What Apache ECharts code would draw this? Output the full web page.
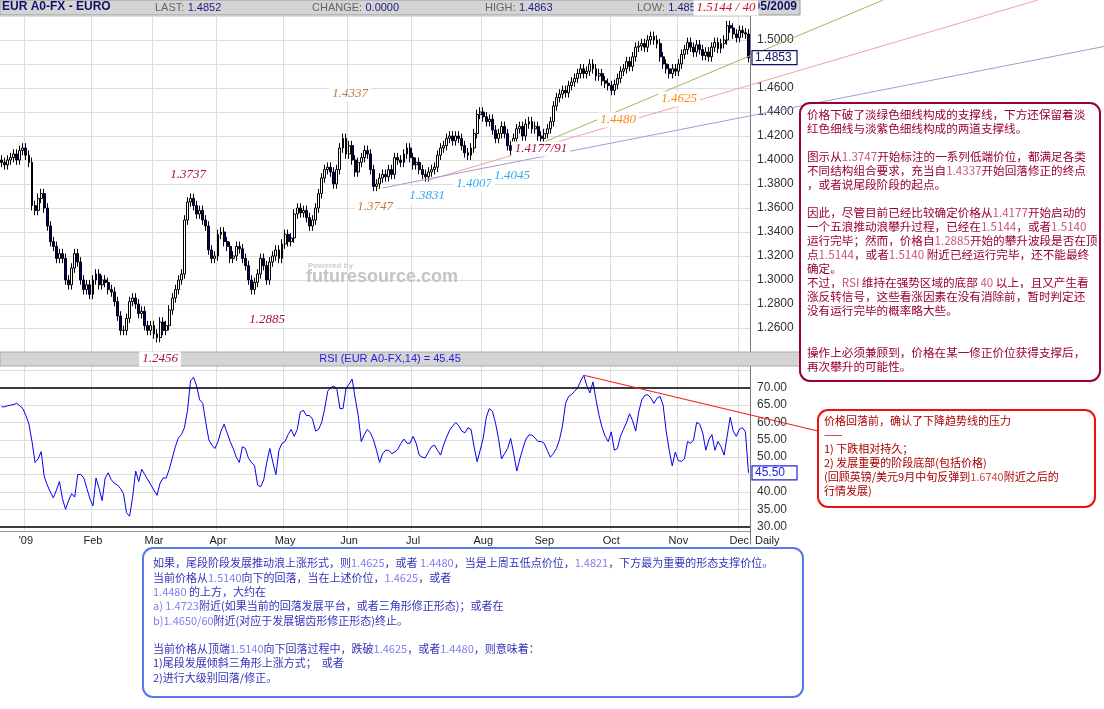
<!DOCTYPE html>
<html><head><meta charset="utf-8">
<script src="https://cdn.jsdelivr.net/npm/echarts@6/dist/echarts.min.js"></script>
<style>html,body{margin:0;padding:0;background:#fff}#c{width:1104px;height:709px}</style>
</head><body><div id="c"></div>
<script>
// ---- data ----
const closes = [
1.398,1.396,1.400,1.402,1.405,1.400,1.408,1.410,1.404,1.398,
1.362,1.358,1.368,1.372,1.360,1.345,1.332,1.328,1.318,1.322,
1.318,1.300,1.296,1.310,1.322,1.315,1.300,1.292,1.296,1.288,
1.300,1.305,1.296,1.300,1.298,1.292,1.290,1.282,1.270,1.258,
1.258,1.268,1.282,1.285,1.280,1.272,1.274,1.262,1.258,1.262,
1.255,1.252,1.265,1.258,1.262,1.275,1.285,1.292,1.300,1.305,
1.350,1.365,1.368,1.362,1.355,1.358,1.350,1.345,1.325,1.318,
1.320,1.338,1.340,1.332,1.328,1.318,1.320,1.328,1.326,1.318,
1.312,1.300,1.292,1.298,1.305,1.318,1.312,1.300,1.315,1.320,
1.325,1.318,1.330,1.338,1.332,1.335,1.355,1.360,1.356,1.358,
1.352,1.345,1.350,1.360,1.372,1.385,1.392,1.394,1.390,1.380,
1.392,1.410,1.418,1.405,1.412,1.400,1.390,1.398,1.402,1.408,
1.405,1.392,1.378,1.380,1.385,1.388,1.386,1.392,1.388,1.402,
1.400,1.398,1.405,1.410,1.402,1.396,1.398,1.392,1.388,1.386,
1.390,1.392,1.394,1.404,1.410,1.412,1.418,1.420,1.416,1.420,
1.418,1.412,1.406,1.404,1.410,1.422,1.438,1.440,1.436,1.432,
1.434,1.425,1.418,1.422,1.428,1.422,1.412,1.408,1.418,1.426,
1.428,1.420,1.430,1.432,1.426,1.428,1.420,1.418,1.422,1.426,
1.432,1.445,1.452,1.455,1.458,1.456,1.462,1.465,1.468,1.472,
1.476,1.472,1.474,1.480,1.476,1.470,1.472,1.466,1.464,1.462,
1.458,1.463,1.468,1.474,1.476,1.482,1.478,1.486,1.494,1.495,
1.497,1.494,1.500,1.503,1.500,1.497,1.486,1.480,1.476,1.472,
1.476,1.474,1.480,1.488,1.492,1.498,1.494,1.490,1.496,1.492,
1.487,1.490,1.486,1.494,1.498,1.493,1.497,1.500,1.512,1.510,
1.505,1.502,1.508,1.506,1.505,1.4853];
const firstOpen = 1.400;
const wick = 0.004;
const rsi = [
64.5,64.5,64.8,65,65.2,65.5,64.8,64,62,59.5,
54.5,48.5,49.5,51.6,44.5,42,40,38.3,40.5,43,
38,35,37.5,39.5,38.5,45,45,44,41,38,
36,44,41,37.5,44,45.5,43.5,42.5,42,41,
39.5,34,33,38.5,46,43,46.5,45,43.5,42,
40.5,39,42.5,44,44,46.5,49.7,53,55.5,56.5,
58.5,63.5,72,73,70.5,66.5,65.5,60,55,53.5,
52.5,54.5,57.5,59.5,57,54.5,52.5,50,48.5,53,
52.5,49.7,48.5,47.5,42,41.5,43.5,48.5,52.5,48.5,
45,52,54,54.5,56.5,58,56,58,63,63.5,
62,62,61,57.5,58,60,64,69,70,70.5,
69.5,64,64,69.8,71,72.5,67,62,54.5,56.5,
58,57,55,52,48.5,51,52,52,51,51.5,
52.3,54,55.2,54,54,56,54,50.6,50,49.8,
51.5,53,53.5,52,50.6,53.5,55.8,57.8,59,60,
59,57.5,57,58.5,58,53,48.7,52,55.5,61.5,
64,63.2,60,55.4,49.5,51,52.5,55.4,51,46,
49.5,52.5,55.2,56.4,56.4,55.5,54.5,54.5,54,52,
50,51,52.5,55,59,65.5,67.5,68,69,70,
72,73.6,70.5,68.5,71.7,66.5,62,58.5,56,54.5,
57.3,52,52.5,56,58,60,62.5,60.5,57.5,63,
66.5,67.8,68,67,65.5,67,67.5,65,57.5,52,
47.5,51.5,49,48.8,49.5,54.5,54,55,60,59.5,
57,52,55,56.5,52,54.5,53,50.6,56,61.5,
57.5,56,58,58.5,57.3,45.5];
const monthIdx = [8,30,50,71,93,114,135,158,178,200,222,242];
const monthNames = ["'09","Feb","Mar","Apr","May","Jun","Jul","Aug","Sep","Oct","Nov","Dec"];
const priceTicks = [1.26,1.28,1.30,1.32,1.34,1.36,1.38,1.40,1.42,1.44,1.46,1.50];
const rsiTicks = [30,35,40,45,50,55,60,65,70];
// trend lines: [startIndex, startValue, endIndex, endValue]
const greenLine = [178,1.415,245,1.4863];
const pinkLine = [140.3,1.3833,245,1.4621];
const purpleLine = [124.6,1.3767,245,1.4365];
const rsiLine = [191,73.6,245,62.3];
const priceNotes = [
 ["1.3737",188,175,'#aa1144'],["1.2885",267,320,'#aa1144'],["1.4337",350,94,'#c07838'],
 ["1.3747",375,207,'#c07838'],["1.3831",427,196,'#33aaee'],["1.4007",474,184,'#33aaee'],
 ["1.4045",512,176,'#33aaee'],["1.4177/91",541,149,'#aa1144'],["1.4480",618,120,'#ff8811'],
 ["1.4625",679,99,'#ff8811'],["1.2456",160,359,'#aa1144'],["1.5144 / 40",726,8,'#cc1133']];

const cats = closes.map((_, i) => String(i));
const candles = closes.map((c, i) => {
  const o = i === 0 ? firstOpen : closes[i-1];
  return [o, c, Math.min(o,c)-wick, Math.max(o,c)+wick];
});

const chart = echarts.init(document.getElementById('c'));
const sans = 'Liberation Sans, Arial, sans-serif';
const gridLine = {show:true, lineStyle:{color:'#dcdcdc'}};
const monthSplit = {show:true, interval:(i)=>monthIdx.includes(i), lineStyle:{color:'#dcdcdc'}};
chart.setOption({
  animation:false,
  grid:[
    {left:0,right:354,top:16,bottom:357},
    {left:0,right:354,top:353,bottom:165}
  ],
  xAxis:[
    {gridIndex:0,type:'category',data:cats,axisLabel:{show:false},axisTick:{show:false},axisLine:{show:false},splitLine:monthSplit},
    {gridIndex:1,type:'category',data:cats,axisLabel:{show:false},axisTick:{show:false},axisLine:{show:false},splitLine:monthSplit}
  ],
  yAxis:[
    {gridIndex:0,type:'value',position:'right',min:1.24,max:1.52,interval:0.02,
      axisLine:{show:true,lineStyle:{color:'#777'}},axisTick:{show:false},splitLine:gridLine,
      axisLabel:{margin:7,color:'#333',fontSize:12,fontFamily:sans,
        formatter:(v)=>priceTicks.some(t=>Math.abs(t-v)<1e-6)?v.toFixed(4):''}},
    {gridIndex:1,type:'value',position:'right',min:25,max:80,interval:5,
      axisLine:{show:true,lineStyle:{color:'#777'}},axisTick:{show:false},splitLine:gridLine,
      axisLabel:{margin:7,color:'#333',fontSize:12,fontFamily:sans,
        formatter:(v)=>rsiTicks.includes(v)?v.toFixed(2):''}}
  ],
  series:[
    {type:'candlestick',xAxisIndex:0,yAxisIndex:0,data:candles,barWidth:2.4,
      itemStyle:{color:'#ffffff',color0:'#000080',borderColor:'#000',borderColor0:'#000',borderWidth:1}},
    {type:'line',xAxisIndex:1,yAxisIndex:1,data:rsi,symbol:'none',lineStyle:{color:'#0000ee',width:1},
      markLine:{symbol:'none',silent:true,label:{show:false},lineStyle:{color:'#000',type:'solid',width:1.5},
        data:[{yAxis:70},{yAxis:30}]}}
  ]
});

function px(grid, i, v){ return chart.convertToPixel({xAxisIndex:grid,yAxisIndex:grid},[i,v]); }
function ext(line, grid, stopX, stopY){
  const a = px(grid,line[0],line[1]), b = px(grid,line[2],line[3]);
  const dx=b[0]-a[0], dy=b[1]-a[1];
  let t = (stopX-a[0])/dx;
  if (stopY!=null){ const t2=(stopY-a[1])/dy; if (t2>0 && t2<t) t=t2; }
  return [a,[a[0]+dx*t,a[1]+dy*t]];
}
const g = [];
function seg(p, color, w){ g.push({type:'line',z:5,shape:{x1:p[0][0],y1:p[0][1],x2:p[1][0],y2:p[1][1]},style:{stroke:color,lineWidth:w||1}}); }
// header bars
g.push({type:'rect',z:4,shape:{x:0,y:0,width:800,height:15},style:{fill:'#d4d4d4',stroke:'#999',lineWidth:1}});
g.push({type:'rect',z:4,shape:{x:0,y:352,width:800,height:14},style:{fill:'#d4d4d4',stroke:'#aaa',lineWidth:1}});
g.push({type:'rect',z:4,shape:{x:0,y:532,width:749,height:13},style:{fill:'#fff'}});
g.push({type:'line',z:4,shape:{x1:0,y1:531.5,x2:750,y2:531.5},style:{stroke:'#999',lineWidth:1}});
monthIdx.forEach((m,k)=>{
  const p = px(1,m,30);
  g.push({type:'text',z:6,x:p[0],y:535,style:{text:monthNames[k],fill:'#222',font:'11px '+sans,align:'center'}});
});
seg(ext(greenLine,0,1104,0),'#99bb55',1);
seg(ext(pinkLine,0,1104,0),'#f4a0a8',1);
seg(ext(purpleLine,0,1104,0),'#a898d0',1);
seg(ext(rsiLine,1,820),'#ee2222',1.2);
const hdr = (x,lab,val)=>{
  g.push({type:'text',z:6,x:x,y:2,style:{text:'{a|'+lab+'} {b|'+val+'}',rich:{a:{fill:'#666',font:'11px '+sans},b:{fill:'#1a1a80',font:'11px '+sans}}}});
};
g.push({type:'text',z:6,x:2,y:1,style:{text:'EUR A0-FX - EURO',fill:'#10106a',font:'bold 12px '+sans}});
hdr(155,'LAST:','1.4852');hdr(312,'CHANGE:','0.0000');hdr(485,'HIGH:','1.4863');hdr(637,'LOW:','1.4852');
g.push({type:'text',z:6,x:797,y:1,style:{text:'12/05/2009',fill:'#10106a',font:'bold 12px '+sans,align:'right'}});
g.push({type:'text',z:6,x:390,y:353,style:{text:'RSI (EUR A0-FX,14) = 45.45',fill:'#2222dd',font:'11px '+sans,align:'center'}});
g.push({type:'text',z:6,x:755,y:535,style:{text:'Daily',fill:'#222',font:'11px '+sans}});
// watermark
g.push({type:'text',z:3,x:308,y:262,style:{text:'Powered by',fill:'#c8d0c8',font:'bold 8px '+sans}});
g.push({type:'text',z:3,x:306,y:268,style:{text:'futuresource.com',fill:'#c4c4c4',font:'bold 18px '+sans}});
// value boxes
const lastP = px(0,245,1.4853), lastR = px(1,245,45.5);
g.push({type:'rect',z:7,shape:{x:752,y:lastP[1]-7,width:45,height:14},style:{fill:'#fff',stroke:'#10106a',lineWidth:1.2}});
g.push({type:'text',z:8,x:755,y:lastP[1]-6,style:{text:'1.4853',fill:'#10106a',font:'12px '+sans}});
g.push({type:'rect',z:7,shape:{x:752,y:lastR[1]-7,width:45,height:14},style:{fill:'#fff',stroke:'#2222dd',lineWidth:1.2}});
g.push({type:'text',z:8,x:755,y:lastR[1]-6,style:{text:'45.50',fill:'#2222dd',font:'12px '+sans}});
// price notes
priceNotes.forEach(n=>g.push({type:'text',z:9,x:n[1],y:n[2],style:{text:n[0],fill:n[3],align:'center',verticalAlign:'middle',
  font:'italic 13px "Liberation Serif", serif',backgroundColor:'#fff',padding:[1,3]}}));
// comment boxes
const cjk = '"Noto Sans CJK SC", sans-serif';
function box(x,y,w,h,border,lines,color,ncolor,fs,lh,tx,ty){
  g.push({type:'rect',z:6,shape:{x:x,y:y,width:w,height:h,r:10},style:{fill:'#fff',stroke:border,lineWidth:2}});
  g.push({type:'text',z:7,x:tx,y:ty,style:{text:lines.join('\n'),fill:color,font:fs+'px '+cjk,lineHeight:lh,
    rich:{n:{fill:ncolor,font:fs+'px '+cjk,lineHeight:lh}}}});
}
box(800,103,300,278,'#990033',[
 '价格下破了淡绿色细线构成的支撑线，下方还保留着淡','红色细线与淡紫色细线构成的两道支撑线。','',
 '图示从{n|1.3747}开始标注的一系列低端价位，都满足各类','不同结构组合要求，充当自{n|1.4337}开始回落修正的终点','，或者说尾段阶段的起点。','',
 '因此，尽管目前已经比较确定价格从{n|1.4177}开始启动的','一个五浪推动浪攀升过程，已经在{n|1.5144}，或者{n|1.5140}',
 '运行完毕；然而，价格自{n|1.2885}开始的攀升波段是否在顶','点{n|1.5144}，或者{n|1.5140} 附近已经运行完毕，还不能最终','确定。',
 '不过，{n|RSI} 维持在强势区域的底部 {n|40} 以上，且又产生看','涨反转信号，这些看涨因素在没有消除前，暂时判定还','没有运行完毕的概率略大些。','','',
 '操作上必须兼顾到，价格在某一修正价位获得支撑后，','再次攀升的可能性。'],'#990033','#cc5577',11.6,14,807,108);
box(818,410,277,97,'#ee1111',[
 '价格回落前，确认了下降趋势线的压力','——','1) 下跌相对持久；','2) 发展重要的阶段底部(包括价格)','(回顾英镑/美元9月中旬反弹到{n|1.6740}附近之后的','行情发展)'],
 '#aa0000','#cc4444',11,14,824,414);
box(143,548,660,149,'#5577ee',[
 '如果，尾段阶段发展推动浪上涨形式，则{n|1.4625}，或者 {n|1.4480}，当是上周五低点价位，{n|1.4821}，下方最为重要的形态支撑价位。',
 '当前价格从{n|1.5140}向下的回落，当在上述价位，{n|1.4625}，或者','{n|1.4480} 的上方，大约在',
 '{n|a)} {n|1.4723}附近(如果当前的回落发展平台，或者三角形修正形态)；或者在','{n|b)1.4650/60}附近(对应于发展锯齿形修正形态)终止。','',
 '当前价格从顶端{n|1.5140}向下回落过程中，跌破{n|1.4625}，或者{n|1.4480}，则意味着：','1)尾段发展倾斜三角形上涨方式；  或者','2)进行大级别回落/修正。'],
 '#3333bb','#8080ee',11,14.3,153,556);
chart.setOption({graphic:{elements:g}});
</script></body></html>
